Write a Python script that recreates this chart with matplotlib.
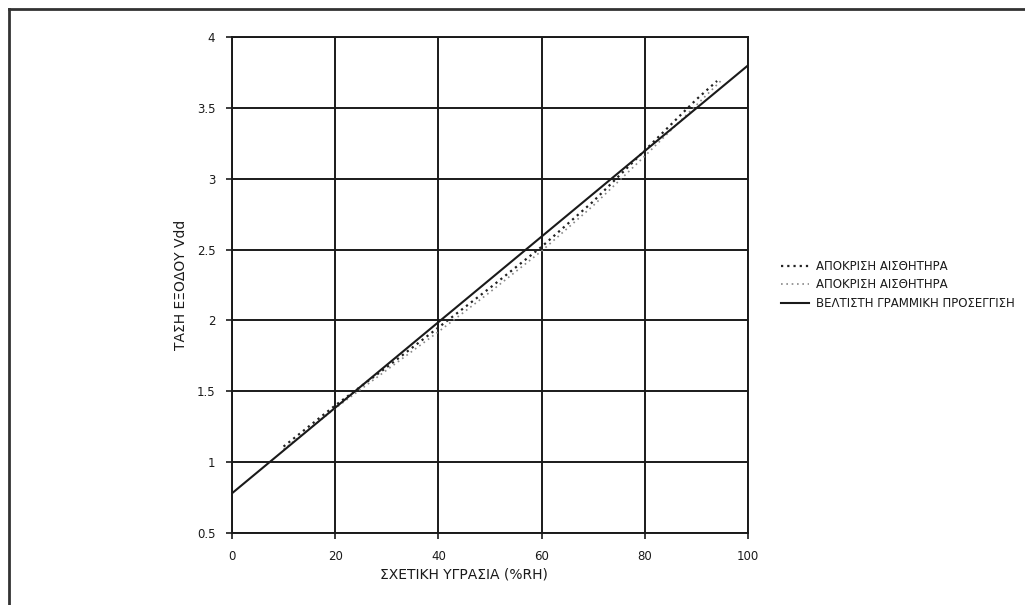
import matplotlib
matplotlib.use("Agg")
import matplotlib.pyplot as plt
from matplotlib.lines import Line2D

plt.rcParams['font.family'] = ['DejaVu Sans']

# sensor response (two measurement runs) and best linear fit
rh_resp1 = [10, 20, 30, 40, 50, 60, 70, 80, 90, 94]
v_resp1 = [1.11, 1.40, 1.67, 1.95, 2.23, 2.52, 2.84, 3.20, 3.56, 3.69]
rh_resp2 = [10, 20, 30, 40, 50, 60, 70, 80, 90, 95]
v_resp2 = [1.09, 1.38, 1.65, 1.92, 2.20, 2.49, 2.81, 3.16, 3.52, 3.70]
rh_fit = [0, 100]
v_fit = [0.78, 3.80]

x_ticks = [0, 20, 40, 60, 80, 100]
y_ticks = [0.5, 1, 1.5, 2, 2.5, 3, 3.5, 4]
y_tick_labels = ['0.5', '1', '1.5', '2', '2.5', '3', '3.5', '4']

labels = ['ΑΠΟΚΡΙΣΗ ΑΙΣΘΗΤΗΡΑ', 'ΑΠΟΚΡΙΣΗ ΑΙΣΘΗΤΗΡΑ',
          'ΒΕΛΤΙΣΤΗ ΓΡΑΜΜΙΚΗ ΠΡΟΣΕΓΓΙΣΗ']

fig = plt.figure(figsize=(10.25, 6.05), dpi=100)
ax = fig.add_axes([0.2263, 0.119, 0.5035, 0.8198])

l1, = ax.plot(rh_resp1, v_resp1, color='#222222', lw=1.6, ls=(0, (1, 1.8)))
l2, = ax.plot(rh_resp2, v_resp2, color='#888888', lw=1.2, ls=(0, (1, 2.2)))
l3, = ax.plot(rh_fit, v_fit, color='#1a1a1a', lw=1.5)

ax.set_xlim(0, 100)
ax.set_ylim(0.5, 4)
ax.set_xticks(x_ticks)
ax.set_yticks(y_ticks)
ax.set_yticklabels(y_tick_labels)
ax.grid(True, color='#1a1a1a', lw=1.4)
for s in ax.spines.values():
    s.set_color('#1a1a1a')
    s.set_linewidth(1.4)
ax.tick_params(direction='out', length=4, width=1.2, labelsize=8.5,
               colors='#1a1a1a', pad=8)

ax.set_xlabel('ΣΧΕΤΙΚΗ ΥΓΡΑΣΙΑ (%RH)', fontsize=10, color='#1a1a1a')
ax.xaxis.set_label_coords(0.45, -0.07)
ax.set_ylabel('ΤΑΣΗ ΕΞΟΔΟΥ Vdd', fontsize=10, color='#1a1a1a')
ax.yaxis.set_label_coords(-0.085, 0.5)

fig.legend([l1, l2, l3], labels, loc='center left',
           bbox_to_anchor=(0.752, 0.529), frameon=False, fontsize=8.5,
           handlelength=2.3, handletextpad=0.6, labelspacing=0.45,
           labelcolor='#1a1a1a')

# outer frame (left and top only)
fig.add_artist(Line2D([0.009, 0.009], [0.0, 0.985], color='#333333', lw=2,
                      transform=fig.transFigure))
fig.add_artist(Line2D([0.009, 1.0], [0.985, 0.985], color='#333333', lw=2,
                      transform=fig.transFigure))

fig.savefig('out.png', dpi=100)
